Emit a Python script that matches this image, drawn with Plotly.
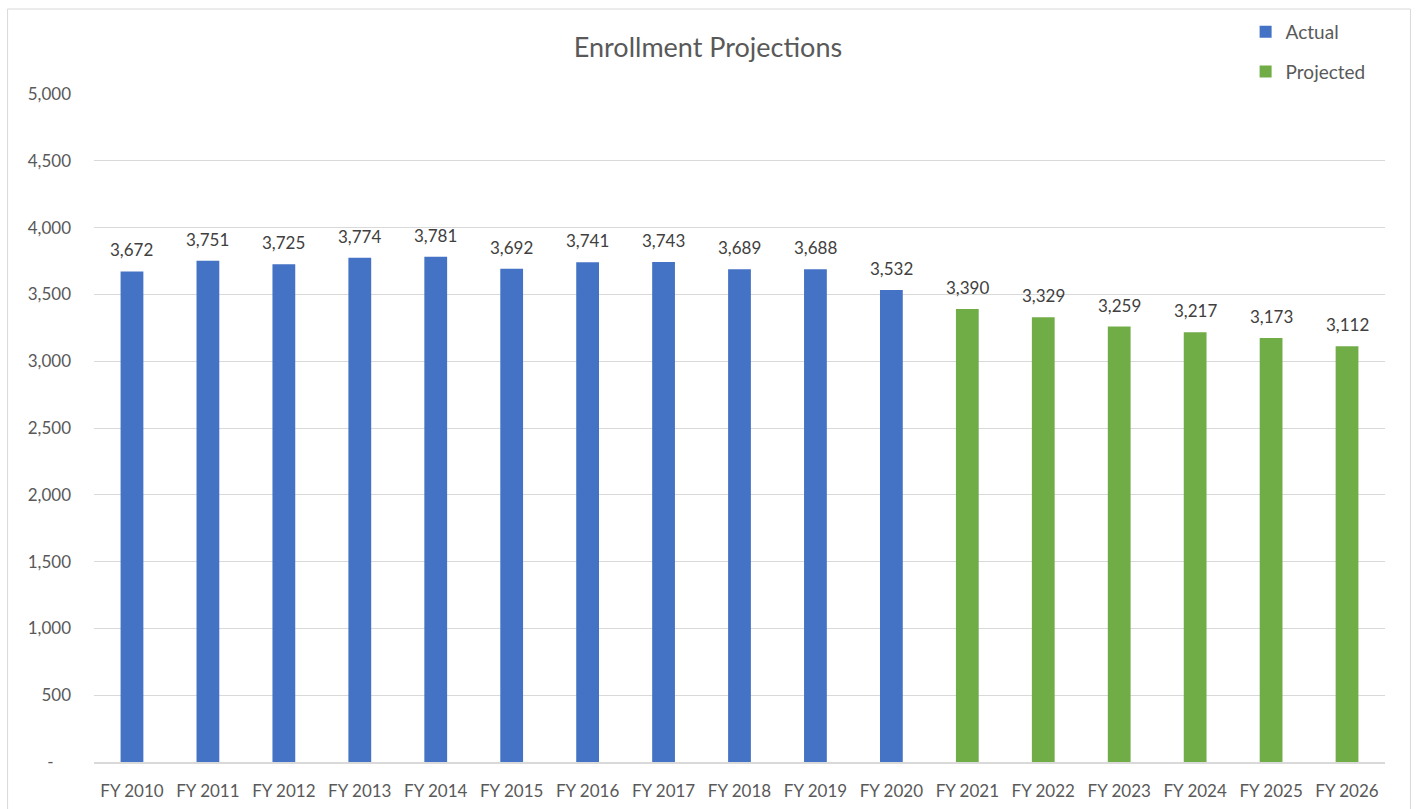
import plotly.graph_objects as go

# Fiscal-year categories and enrollment counts
years = ["FY 2010", "FY 2011", "FY 2012", "FY 2013", "FY 2014", "FY 2015",
         "FY 2016", "FY 2017", "FY 2018", "FY 2019", "FY 2020", "FY 2021",
         "FY 2022", "FY 2023", "FY 2024", "FY 2025", "FY 2026"]
actual_years = years[:11]
actual_values = [3672, 3751, 3725, 3774, 3781, 3692, 3741, 3743, 3689, 3688, 3532]
projected_years = years[11:]
projected_values = [3390, 3329, 3259, 3217, 3173, 3112]

y_ticks = [0, 500, 1000, 1500, 2000, 2500, 3000, 3500, 4000, 4500, 5000]
y_tick_text = ["-\u00a0\u00a0\u00a0\u00a0", "500", "1,000", "1,500", "2,000", "2,500",
               "3,000", "3,500", "4,000", "4,500", "5,000"]

BLUE = "#4472C4"
GREEN = "#70AD47"
TEXT = "#595959"
GRID = "#d9d9d9"
FONT = "Lato, 'Open Sans', sans-serif"

W, H = 1416, 809
L, R, T, B = 93.5, 30.5, 94, 47
pw, ph = W - L - R, H - T - B

fig = go.Figure()
fig.add_trace(go.Bar(x=actual_years, y=actual_values, name="Actual",
                     marker=dict(color=BLUE, line=dict(width=0)),
                     legendgroup="a"))
fig.add_trace(go.Bar(x=projected_years, y=projected_values, name="Projected",
                     marker=dict(color=GREEN, line=dict(width=0)),
                     legendgroup="p"))

# Value labels above each bar
for xs, vs in ((actual_years, actual_values), (projected_years, projected_values)):
    for x, v in zip(xs, vs):
        fig.add_annotation(x=x, y=v, text=f"{v:,}", showarrow=False,
                           yanchor="bottom", yshift=9,
                           font=dict(family=FONT, size=17, color="#404040"))

# Outer chart border
fig.add_shape(type="rect", xref="paper", yref="paper",
              x0=(7 - L) / pw, x1=(1411 - L) / pw,
              y0=(H - T - 812) / ph, y1=(H - B - 9) / ph,
              line=dict(color=GRID, width=1), fillcolor="rgba(0,0,0,0)", layer="below")

fig.update_layout(
    width=W, height=H,
    margin=dict(l=L, r=R, t=T, b=B, autoexpand=False),
    paper_bgcolor="white", plot_bgcolor="white",
    barmode="overlay", bargap=0.7,
    title=dict(text="Enrollment Projections", x=0.5, xanchor="center",
               y=1 - 48 / H, yanchor="middle",
               font=dict(family=FONT, size=27, color=TEXT)),
    font=dict(family=FONT, color=TEXT),
    legend=dict(x=(1246 - L) / pw, xanchor="left", y=1 + 81 / ph, yanchor="top",
                orientation="v", tracegroupgap=12,
                font=dict(family=FONT, size=19, color=TEXT),
                bgcolor="rgba(0,0,0,0)"),
    xaxis=dict(type="category", categoryorder="array", categoryarray=years,
               showgrid=False, showline=True, linecolor=GRID, linewidth=1.5,
               ticks="", ticklabelstandoff=13, automargin=False,
               tickfont=dict(family=FONT, size=17, color=TEXT)),
    yaxis=dict(range=[0, 5000], tickvals=y_ticks, ticktext=y_tick_text,
               showgrid=True, gridcolor=GRID, gridwidth=1, zeroline=False,
               showline=False, ticks="", ticklabelstandoff=22, automargin=False,
               tickfont=dict(family=FONT, size=17, color=TEXT)),
)

fig.write_html("out.html")
